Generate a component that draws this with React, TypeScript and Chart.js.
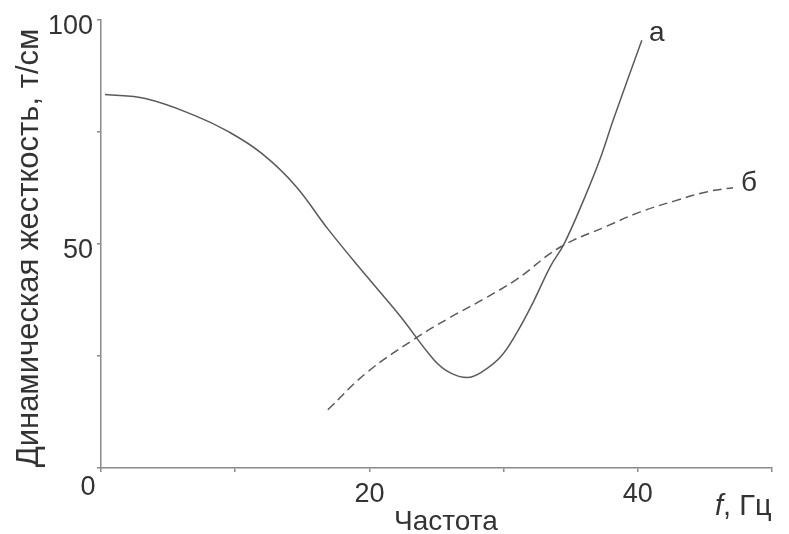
import React, { useEffect, useRef } from "react";
import { Chart, registerables } from "chart.js";

Chart.register(...registerables);

// Curve "а" (solid): frequency (Hz) vs dynamic stiffness (т/см)
const curveAX = [0.3, 3.3, 7.0, 9.5, 12.0, 14.5, 16.9, 19.8, 22.3, 24.8, 26.0, 27.3, 28.3, 29.8, 31.0, 32.2, 33.5, 34.5, 36.0, 37.2, 38.2, 40.3];
const curveAY = [83.4, 82.5, 78.7, 75.1, 70.2, 63.0, 53.4, 42.8, 33.9, 24.2, 21.3, 20.2, 21.3, 24.9, 30.3, 37.0, 45.1, 50.0, 60.1, 69.1, 78.0, 95.5];

// Curve "б" (dashed)
const curveBX = [16.9, 19.8, 23.3, 26.0, 28.5, 31.0, 34.2, 37.7, 40.2, 42.7, 45.2, 47.1];
const curveBY = [13.0, 21.3, 28.7, 33.6, 37.7, 42.2, 49.3, 54.0, 57.2, 59.6, 61.7, 62.6];

const seriesNames = ["а", "б"];
const xTickLabels = [20, 40];
const yTickLabels = [50, 100];
const originLabel = "0";
const xTitle = "Частота";
const xUnit = "Гц";
const yTitle = "Динамическая жесткость, т/см";

const TEXT = "#333";
const AXIS = "#8a8a8a";
const LINE = "#5a5a5a";
const FONT = "'Liberation Sans', Arial, sans-serif";

const annotationsPlugin = {
  id: "annotations",
  afterDraw(chart: any) {
    const ctx = chart.ctx;
    const xs = chart.scales.x;
    const ys = chart.scales.y;
    ctx.save();
    ctx.fillStyle = TEXT;
    ctx.textAlign = "center";
    ctx.textBaseline = "middle";
    // series labels at end of each curve
    ctx.font = `28px ${FONT}`;
    chart.data.datasets.forEach((ds: any, i: number) => {
      const meta = chart.getDatasetMeta(i);
      const last = meta.data[meta.data.length - 1];
      const off = i === 0 ? [15, -7] : [16, -4];
      ctx.fillText(seriesNames[i], last.x + off[0], last.y + off[1]);
    });
    // origin label
    ctx.font = `27px ${FONT}`;
    ctx.fillText(originLabel, xs.getPixelForValue(0) - 13, ys.getPixelForValue(0) + 20);
    // x title
    ctx.font = `28px ${FONT}`;
    ctx.fillText(xTitle, 446, 522);
    // x unit: italic f
    ctx.textAlign = "left";
    ctx.font = `italic 29px ${FONT}`;
    const ux = 715;
    ctx.fillText("f", ux, 507);
    const fw = ctx.measureText("f").width;
    ctx.font = `29px ${FONT}`;
    ctx.fillText(", " + xUnit, ux + fw, 507);
    // y title rotated
    ctx.translate(29, 248);
    ctx.rotate(-Math.PI / 2);
    ctx.textAlign = "center";
    ctx.font = `31px ${FONT}`;
    ctx.fillText(yTitle, 0, 0);
    ctx.restore();
  },
};

export default function App() {
  const ref = useRef<HTMLCanvasElement>(null);
  useEffect(() => {
    if (!ref.current) return;
    const chart = new Chart(ref.current, {
      type: "line",
      data: {
        datasets: [
          {
            label: seriesNames[0],
            data: curveAX.map((x, i) => ({ x, y: curveAY[i] })),
            borderColor: LINE,
            borderWidth: 1.5,
            pointRadius: 0,
            tension: 0.4,
            fill: false,
          },
          {
            label: seriesNames[1],
            data: curveBX.map((x, i) => ({ x, y: curveBY[i] })),
            borderColor: LINE,
            borderWidth: 1.5,
            borderDash: [9, 5],
            pointRadius: 0,
            tension: 0.4,
            fill: false,
          },
        ],
      },
      options: {
        animation: false,
        responsive: false,
        maintainAspectRatio: false,
        layout: { padding: { top: 20, right: 17, left: 0, bottom: 0 } },
        plugins: { legend: { display: false }, tooltip: { enabled: false } },
        scales: {
          x: {
            type: "linear",
            min: 0,
            max: 50,
            afterFit: (s: any) => {
              s.height = 66;
            },
            ticks: {
              stepSize: 10,
              color: TEXT,
              font: { size: 27, family: FONT },
              padding: 6,
              maxRotation: 0,
              autoSkip: false,
              callback: (v: any) => (xTickLabels.includes(Number(v)) ? String(v) : ""),
            },
            grid: { drawOnChartArea: false, drawTicks: true, tickLength: 4, color: AXIS, lineWidth: 1.5 },
            border: { color: AXIS, width: 1.5 },
          },
          y: {
            type: "linear",
            min: 0,
            max: 100,
            afterFit: (s: any) => {
              s.width = 101;
            },
            ticks: {
              stepSize: 25,
              color: TEXT,
              font: { size: 27, family: FONT },
              padding: 4,
              labelOffset: 6,
              autoSkip: false,
              callback: (v: any) => (yTickLabels.includes(Number(v)) ? String(v) : ""),
            },
            grid: { drawOnChartArea: false, drawTicks: true, tickLength: 4, color: AXIS, lineWidth: 1.5 },
            border: { color: AXIS, width: 1.5 },
          },
        },
      },
      plugins: [annotationsPlugin],
    } as any);
    return () => chart.destroy();
  }, []);
  return (
    <div style={{ position: "absolute", left: 0, top: 0, width: 789, height: 534, background: "#fff" }}>
      <canvas ref={ref} width={789} height={534} style={{ width: 789, height: 534, display: "block" }} />
    </div>
  );
}
